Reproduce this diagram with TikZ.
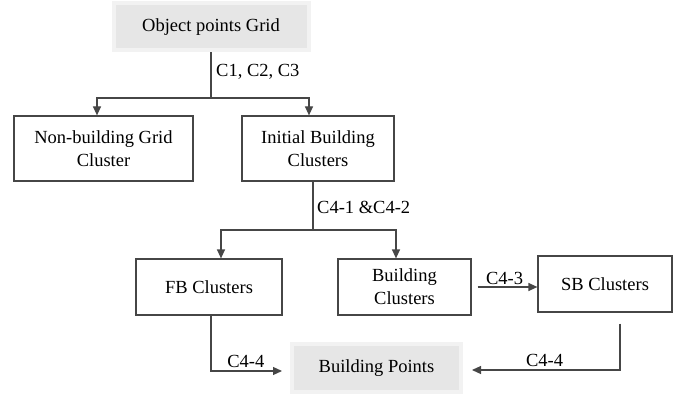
\documentclass[tikz,border=0pt]{standalone}
\usepackage{fontspec}
\setmainfont{Liberation Serif}
\usepackage{xcolor}
\usepackage{tikz}
\usetikzlibrary{arrows.meta,positioning,calc,shadows}
\definecolor{edge}{RGB}{70,70,70}
\definecolor{shade}{RGB}{230,230,230}
\definecolor{frame}{RGB}{242,242,242}

\begin{document}
\begin{tikzpicture}[x=1pt, y=-1pt,
  box/.style={draw=edge, line width=1.2pt, align=center, inner sep=0pt,
    font=\fontsize{18.5}{23}\selectfont},
  keybox/.style={box, draw=frame, line width=4pt, fill=shade,
    drop shadow={shadow xshift=2pt, shadow yshift=-2pt, fill=black!22}},
  lbl/.style={font=\fontsize{18.5}{23}\selectfont, inner sep=1pt},
  line/.style={draw=edge, line width=1.2pt},
  flow/.style={line, -{Triangle[length=9pt, width=8pt]}}
]
\useasboundingbox (0,0) rectangle (678,396);

% Boxes, placed at their centres.
\node[keybox, minimum width=195pt, minimum height=47pt] (grid) at (211,27) {Object points Grid};
\node[box, minimum width=179pt, minimum height=65pt] (nonbuild) at (103.5,148.5) {Non-building Grid\\Cluster};
\node[box, minimum width=152pt, minimum height=65pt] (initial) at (318,148.5) {Initial Building\\Clusters};
\node[box, minimum width=146pt, minimum height=56pt] (fb) at (209,287) {FB Clusters};
\node[box, minimum width=133pt, minimum height=56pt] (bc) at (404.5,287) {Building\\Clusters};
\node[box, minimum width=134pt, minimum height=56pt] (sb) at (605,284) {SB Clusters};
\node[keybox, minimum width=169pt, minimum height=48pt] (bpoints) at (376.5,368) {Building Points};

% First split.
\coordinate (fork1) at (211,98);
\draw[line] (grid) -- (fork1);
\draw[flow] (fork1) -| ([xshift=-6.5pt]nonbuild.north);
\draw[flow] (fork1) -| ([xshift=-9pt]initial.north);
\node[lbl, anchor=west] (c123) at (215,72) {C1, C2, C3};

% Second split.
\coordinate (fork2) at (313,230);
\draw[line] (initial.south -| fork2) -- (fork2);
\draw[flow] (fork2) -| ([xshift=12pt]fb.north);
\draw[flow] (fork2) -| ([xshift=-8.5pt]bc.north);
\node[lbl, anchor=west] (c412) at (316,207) {C4-1 \&C4-2};

\draw[flow, shorten <=6pt] (bc.east) -- node[lbl, above=1pt]{C4-3} (bc.east -| sb.west);

% Both branches end at the building points.
\draw[flow, shorten >=8pt] ([xshift=2pt]fb.south) |- node[lbl, pos=0.72, above=2pt]{C4-4}
  ([yshift=-3pt]bpoints.west);
\draw[flow, shorten <=11pt, shorten >=9pt] ([xshift=15pt]sb.south) |- node[lbl, pos=0.74, above=2pt]{C4-4}
  ([yshift=-2pt]bpoints.east);

\end{tikzpicture}
\end{document}
